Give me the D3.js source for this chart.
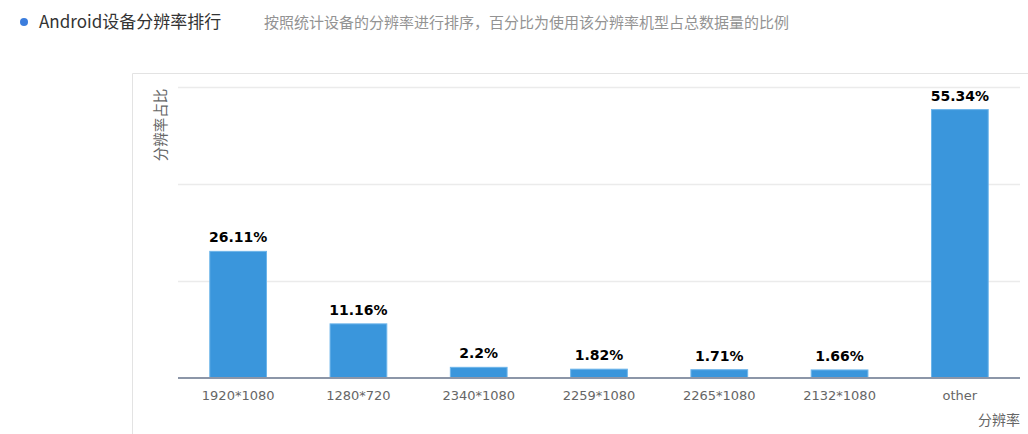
<!DOCTYPE html>
<html>
<head>
<meta charset="utf-8">
<script src="https://cdn.jsdelivr.net/npm/d3@7"></script>
<style>
  body { margin: 0; background: #fff; }
  text { font-family: "DejaVu Sans", sans-serif; }
  .cjk { font-family: "Noto Sans CJK SC", "Noto Sans", sans-serif; }
</style>
</head>
<body>
<div id="vis"></div>
<script>
var width = 1028;
var height = 434;

// data
var categories = ["1920*1080", "1280*720", "2340*1080", "2259*1080", "2265*1080", "2132*1080", "other"];
var values = [26.11, 11.16, 2.2, 1.82, 1.71, 1.66, 55.34];
var labels = ["26.11%", "11.16%", "2.2%", "1.82%", "1.71%", "1.66%", "55.34%"];
var gridTicks = [20, 40, 60];

var plot = { left: 178, right: 1020, top: 87, bottom: 378 };

var svg = d3.select("#vis")
  .append("svg")
  .attr("width", width)
  .attr("height", height)
  .style("background-color", "white");

// header
svg.append("circle")
  .attr("cx", 24).attr("cy", 22).attr("r", 4)
  .attr("fill", "#3b7ddd");
svg.append("text")
  .attr("class", "cjk")
  .attr("x", 39).attr("y", 28)
  .attr("font-size", 17)
  .attr("fill", "#333")
  .text("Android设备分辨率排行");
svg.append("text")
  .attr("class", "cjk")
  .attr("x", 264).attr("y", 28)
  .attr("font-size", 15)
  .attr("fill", "#939393")
  .text("按照统计设备的分辨率进行排序，百分比为使用该分辨率机型占总数据量的比例");

// panel border
svg.append("path")
  .attr("d", `M132.5,${height} L132.5,73.5 L${width},73.5`)
  .attr("fill", "none")
  .attr("stroke", "#e3e3e3")
  .attr("stroke-width", 1);

var xScale = d3.scaleBand()
  .domain(categories)
  .range([plot.left, plot.right])
  .paddingInner(0.52)
  .paddingOuter(0.26);

var yScale = d3.scaleLinear()
  .domain([0, 60])
  .range([plot.bottom, plot.top]);

// grid
svg.append("g")
  .selectAll("line")
  .data(gridTicks)
  .join("line")
  .attr("x1", plot.left)
  .attr("x2", plot.right)
  .attr("y1", d => Math.round(yScale(d)) + 0.5)
  .attr("y2", d => Math.round(yScale(d)) + 0.5)
  .attr("stroke", "#ebebeb")
  .attr("stroke-width", 1.5);

// bars
svg.append("g")
  .selectAll("rect")
  .data(values)
  .join("rect")
  .attr("x", (d, i) => xScale(categories[i]) + 0.5)
  .attr("y", d => yScale(d))
  .attr("width", xScale.bandwidth() - 1)
  .attr("height", d => plot.bottom - yScale(d))
  .attr("fill", "#3a96dc")
  .attr("stroke", "#6db5ea")
  .attr("stroke-width", 1);

// value labels
svg.append("g")
  .selectAll("text")
  .data(values)
  .join("text")
  .attr("x", (d, i) => xScale(categories[i]) + xScale.bandwidth() / 2)
  .attr("y", d => yScale(d) - 9)
  .attr("text-anchor", "middle")
  .attr("font-size", 14)
  .attr("font-weight", "bold")
  .attr("fill", "#000")
  .text((d, i) => labels[i]);

// x axis
var xAxis = d3.axisBottom(xScale).tickSize(0).tickPadding(13);
var axis = svg.append("g")
  .attr("transform", `translate(0, ${plot.bottom})`)
  .call(xAxis);
axis.select(".domain")
  .attr("d", `M${plot.left},0H${plot.right}`)
  .attr("stroke", "#8c96a8")
  .attr("stroke-width", 2);
axis.selectAll("text")
  .attr("font-size", 13)
  .attr("font-family", "DejaVu Sans, sans-serif")
  .attr("fill", "#666");

// axis titles
svg.append("text")
  .attr("class", "cjk")
  .attr("transform", "translate(166, 125) rotate(-90)")
  .attr("text-anchor", "middle")
  .attr("font-size", 14.5)
  .attr("fill", "#666")
  .text("分辨率占比");
svg.append("text")
  .attr("class", "cjk")
  .attr("x", plot.right)
  .attr("y", 425)
  .attr("text-anchor", "end")
  .attr("font-size", 14)
  .attr("fill", "#666")
  .text("分辨率");
</script>
</body>
</html>
